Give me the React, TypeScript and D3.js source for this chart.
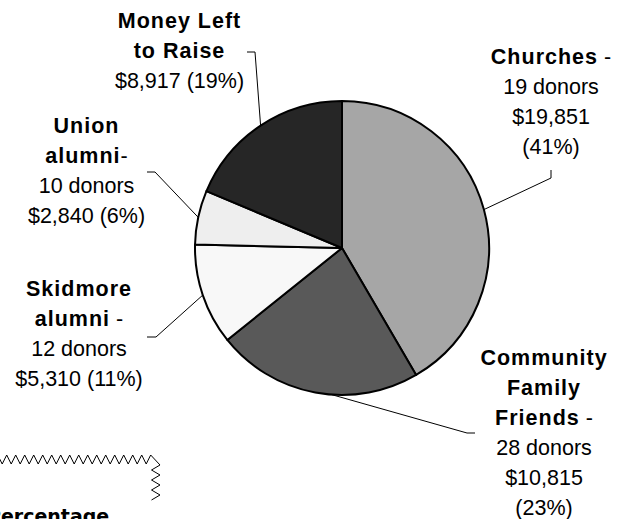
import React from "react";
import * as d3 from "d3";

const categories = ["Churches", "Community Family Friends", "Skidmore alumni", "Union alumni", "Money Left to Raise"];
const amounts = [19851, 10815, 5310, 2840, 8917];
const donors: (number | null)[] = [19, 28, 12, 10, null];
const percents = [41, 23, 11, 6, 19];
const titleLines = [["Churches"], ["Community", "Family", "Friends"], ["Skidmore", "alumni"], ["Union", "alumni"], ["Money Left", "to Raise"]];
const titleSuffix = [" -", " -", " -", "-", ""];
const colors = ["#a6a6a6", "#595959", "#f8f8f8", "#eeeeee", "#262626"];

const W = 628, H = 519;
const cx = 342, cy = 248, R = 147;
const LH = 29.9;

// label layout: center x, first baseline, amount/pct joined on one line, leader elbow points
const layout = [
  { x: 551, y: 64, join: false, elbow: [[551, 170], [551, 178]], angleDeg: null as number | null },
  { x: 544, y: 365, join: false, elbow: [[475, 433], [467, 433]], angleDeg: 184 },
  { x: 79, y: 296, join: true, elbow: [[147, 337], [156, 337]], angleDeg: null },
  { x: 86.5, y: 133, join: true, elbow: [[147, 172], [155, 172]], angleDeg: null },
  { x: 179.5, y: 28, join: true, elbow: [[247, 52], [255, 52]], angleDeg: null },
];

const fmt = d3.format(",");

export default function App() {
  const pie = d3.pie<number>().sort(null).value((d) => d)(amounts);
  const arc = d3.arc<d3.PieArcDatum<number>>().innerRadius(0).outerRadius(R);
  const thin = d3.line();

  // zigzag decoration (torn text box edge)
  const zz: [number, number][] = [];
  for (let px = 150.7 - 9 * 18; px <= 151; px += 9) {
    zz.push([px - 4.5, 464]);
    zz.push([px, 455]);
  }
  zz.push([160, 465]);
  for (let k = 1; k < 8; k++) zz.push([k % 2 ? 151.5 : 160, 465 + 5 * k]);

  return (
    <svg width={W} height={H} style={{ position: "absolute", left: 0, top: 0, background: "#fff" }}
      fontFamily="'Liberation Sans', Arial, sans-serif">
      <g transform={`translate(${cx},${cy})`}>
        {pie.map((p, i) => (
          <path key={i} d={arc(p) || ""} fill={colors[i]} stroke="#000" strokeWidth={2} strokeLinejoin="round" />
        ))}
      </g>
      {pie.map((p, i) => {
        const L = layout[i];
        const a = L.angleDeg != null ? (L.angleDeg * Math.PI) / 180 : (p.startAngle + p.endAngle) / 2;
        const end: [number, number] = [cx + R * Math.sin(a), cy - R * Math.cos(a)];
        const pts = [...(L.elbow as [number, number][]), end];
        return <path key={"l" + i} d={thin(pts) || ""} fill="none" stroke="#000" strokeWidth={1} />;
      })}
      {categories.map((c, i) => {
        const L = layout[i];
        const titles = titleLines[i];
        const regular: string[] = [];
        if (donors[i] != null) regular.push(`${donors[i]} donors`);
        const amt = `$${fmt(amounts[i])}`;
        const pct = `(${percents[i]}%)`;
        if (L.join) regular.push(`${amt} ${pct}`);
        else { regular.push(amt); regular.push(pct); }
        return (
          <text key={"t" + i} textAnchor="middle" fontSize={21.5} fill="#000">
            {titles.map((t, j) => (
              <tspan key={j} x={L.x} y={L.y + j * LH}>
                <tspan fontWeight="bold" letterSpacing={1}>{t}</tspan>
                {j === titles.length - 1 && titleSuffix[i] ? <tspan>{titleSuffix[i]}</tspan> : null}
              </tspan>
            ))}
            {regular.map((t, j) => (
              <tspan key={"r" + j} x={L.x} y={L.y + (titles.length + j) * LH}>{t}</tspan>
            ))}
          </text>
        );
      })}
      <path d={thin(zz) || ""} fill="none" stroke="#000" strokeWidth={1} />
      <text x={-13} y={523} fontFamily="'DejaVu Sans', Verdana, sans-serif" fontWeight="bold" fontSize={19} fill="#000">Percentage</text>
    </svg>
  );
}
